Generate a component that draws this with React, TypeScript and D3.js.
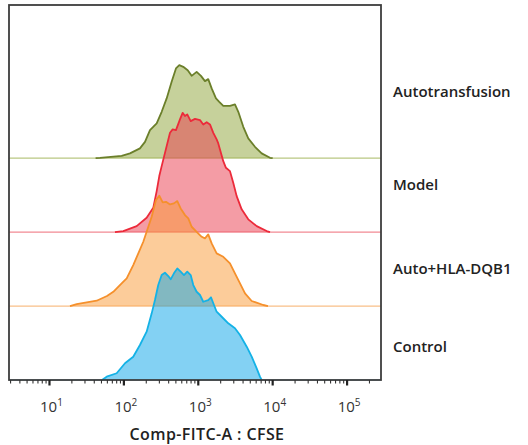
import React, { useEffect } from "react";
import * as d3 from "d3";

// FITC-A intensity, stored as log10 value, with the count
const autotransfusion: [number, number][] = [
  [1.62, 0], [1.679, 0.4], [1.97, 3.1], [2.082, 6.4], [2.216, 13.1], [2.284, 22.0],
  [2.351, 37.8], [2.441, 46.9], [2.508, 62.6], [2.575, 80.7], [2.642, 103.1],
  [2.7, 121.2], [2.745, 125.7], [2.798, 123.4], [2.858, 118.9], [2.911, 111.2],
  [2.978, 116.6], [3.036, 111.2], [3.09, 104.1], [3.134, 106.8], [3.18, 94.2],
  [3.238, 80.7], [3.282, 76.1], [3.336, 70.7], [3.426, 70.7], [3.493, 72.6],
  [3.538, 62.6], [3.605, 42.3], [3.672, 26.6], [3.762, 15.3], [3.852, 6.4],
  [3.964, 0.4], [4.0, 0],
];

const model: [number, number][] = [
  [1.88, 0], [1.992, 1.4], [2.172, 8.1], [2.306, 19.3], [2.395, 32.8], [2.441, 55.4],
  [2.476, 75.7], [2.508, 89.2], [2.575, 116.2], [2.62, 134.2], [2.656, 138.8],
  [2.7, 137.8], [2.754, 152.3], [2.79, 161.2], [2.821, 156.8], [2.852, 159.1],
  [2.898, 150.0], [2.956, 153.1], [3.023, 151.4], [3.067, 145.5], [3.113, 148.6],
  [3.157, 145.5], [3.202, 134.2], [3.247, 125.3], [3.269, 119.9], [3.336, 95.9],
  [3.372, 86.9], [3.426, 82.4], [3.47, 66.6], [3.516, 48.6], [3.583, 30.7],
  [3.672, 17.2], [3.785, 8.1], [3.919, 1.4], [3.964, 0],
];

const autoHla: [number, number][] = [
  [1.276, 0], [1.366, 2.7], [1.634, 7.2], [1.773, 13.5], [1.858, 19.3], [1.97, 30.7],
  [2.038, 37.4], [2.126, 55.4], [2.194, 71.2], [2.261, 86.9], [2.306, 100.4],
  [2.374, 120.7], [2.431, 143.2], [2.476, 149.1], [2.522, 140.1], [2.566, 140.9],
  [2.62, 137.4], [2.673, 138.8], [2.718, 141.9], [2.763, 132.0], [2.821, 123.0],
  [2.866, 118.5], [2.911, 107.2], [2.978, 100.4], [3.046, 93.6], [3.09, 91.5],
  [3.134, 96.9], [3.18, 84.7], [3.247, 71.2], [3.336, 66.6], [3.426, 57.7],
  [3.493, 44.2], [3.561, 30.7], [3.628, 17.2], [3.718, 6.8], [3.874, 1.4], [3.937, 0],
];

const control: [number, number][] = [
  [1.706, 0], [1.769, 4.5], [1.903, 9.1], [2.015, 22.6], [2.126, 31.5], [2.216, 47.3],
  [2.306, 65.3], [2.374, 90.1], [2.418, 108.1], [2.462, 128.4], [2.508, 141.9],
  [2.552, 145.0], [2.597, 140.5], [2.629, 136.1], [2.673, 144.2], [2.718, 150.9],
  [2.763, 146.4], [2.808, 141.9], [2.852, 146.4], [2.898, 141.9], [2.933, 128.4],
  [2.978, 119.3], [3.023, 114.9], [3.067, 105.8], [3.134, 108.1], [3.171, 111.8],
  [3.211, 101.4], [3.247, 92.3], [3.315, 85.5], [3.403, 76.6], [3.493, 69.9],
  [3.561, 60.8], [3.651, 45.0], [3.718, 31.5], [3.785, 15.8], [3.829, 4.5], [3.852, 0],
];

const sampleNames = ["Autotransfusion", "Model", "Auto+HLA-DQB1", "Control"];
const sampleData = [autotransfusion, model, autoHla, control];
const laneOffsets = [300, 200, 100, 0];
const majorExponents = [1, 2, 3, 4, 5];
const superscripts = ["1", "2", "3", "4", "5"];
const axisTitle = "Comp-FITC-A : CFSE";

const lineColors = ["#6b7f2a", "#ec2a3a", "#f5902c", "#14b2e6"];
const fillColors = ["#8ea337", "#e93a4c", "#f99a36", "#08a4e8"];
const baseColors = ["#b9c782", "#f28a93", "#f9bf88", "#8ad4f2"];
const labelY = [97, 190, 274, 352];

const width = 528;
const height = 445;
const left = 9;
const right = 381;
const top = 5;
const bottom = 380;

const App: React.FC = () => {
  useEffect(() => {
    document.body.style.margin = "0";
  }, []);

  const x = d3
    .scaleLog()
    .domain([Math.pow(10, 0.456), Math.pow(10, 5.456)])
    .range([left, right]);
  const y = d3.scaleLinear().domain([0, 507]).range([bottom, top]);

  const minorTicks: number[] = [];
  for (let e = 0; e <= 5; e++) {
    for (let k = 2; k <= 9; k++) {
      const v = k * Math.pow(10, e);
      if (v >= x.domain()[0] && v <= x.domain()[1]) minorTicks.push(v);
    }
  }

  return (
    <svg width={width} height={height} style={{ display: "block" }}>
      <rect x={0} y={0} width={width} height={height} fill="#fff" />
      {sampleData.map((data, i) => {
        const off = laneOffsets[i];
        const area = d3
          .area<[number, number]>()
          .x((d) => x(Math.pow(10, d[0])))
          .y0(y(off))
          .y1((d) => y(off + d[1]));
        const line = d3
          .line<[number, number]>()
          .x((d) => x(Math.pow(10, d[0])))
          .y((d) => y(off + d[1]));
        return (
          <g key={sampleNames[i]}>
            <line
              x1={left}
              x2={right}
              y1={y(off)}
              y2={y(off)}
              stroke={baseColors[i]}
              strokeWidth={1.2}
            />
            <path d={area(data) || ""} fill={fillColors[i]} fillOpacity={0.5} />
            <path
              d={line(data) || ""}
              fill="none"
              stroke={lineColors[i]}
              strokeWidth={1.8}
              strokeLinejoin="round"
            />
          </g>
        );
      })}
      <rect
        x={left}
        y={top}
        width={right - left}
        height={bottom - top}
        fill="none"
        stroke="#3d3d3d"
        strokeWidth={1.8}
      />
      <g>
        {minorTicks.map((v) => (
          <line
            key={v}
            x1={x(v)}
            x2={x(v)}
            y1={bottom}
            y2={bottom + 3.5}
            stroke="#333"
            strokeWidth={1.1}
          />
        ))}
        {majorExponents.map((e) => (
          <line
            key={e}
            x1={x(Math.pow(10, e))}
            x2={x(Math.pow(10, e))}
            y1={bottom}
            y2={bottom + 5.5}
            stroke="#222"
            strokeWidth={2.2}
          />
        ))}
        {majorExponents.map((e, i) => (
          <text
            key={"l" + e}
            x={x(Math.pow(10, e)) + 2}
            y={412}
            textAnchor="middle"
            fontFamily="Open Sans, sans-serif"
            fontSize={15}
            fill="#333"
          >
            10
            <tspan fontSize={10} dy={-6}>
              {superscripts[i]}
            </tspan>
          </text>
        ))}
        <text
          x={207}
          y={440}
          textAnchor="middle"
          fontFamily="Open Sans, sans-serif"
          fontWeight={600}
          fontSize={16}
          letterSpacing={0.4}
          fill="#222"
        >
          {axisTitle}
        </text>
      </g>
      {sampleNames.map((name, i) => (
        <text
          key={name}
          x={393}
          y={labelY[i]}
          fontFamily="Open Sans, sans-serif"
          fontWeight={600}
          fontSize={15}
          fill="#222"
        >
          {name}
        </text>
      ))}
    </svg>
  );
};

export default App;
